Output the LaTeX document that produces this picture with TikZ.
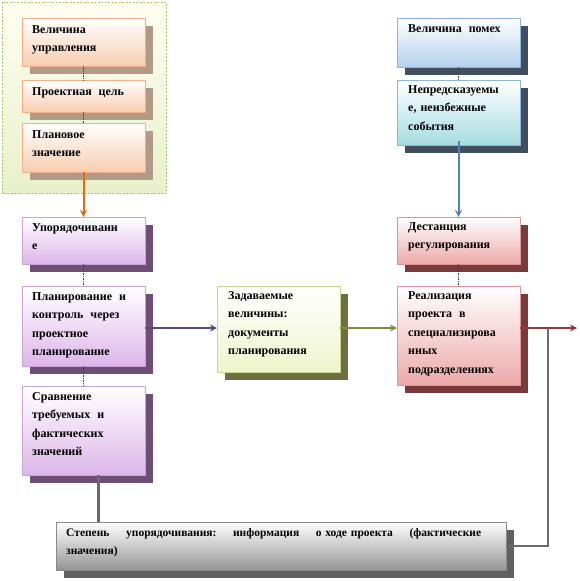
\documentclass[tikz,border=0pt]{standalone}
\usepackage{fontspec}
\setmainfont{Liberation Serif}
\usetikzlibrary{arrows.meta,calc}
\pgfdeclarelayer{back}
\pgfdeclarelayer{bg}
\pgfsetlayers{back,bg,main}
\definecolor{peachB}{HTML}{F8CDB0}
\definecolor{peachD}{HTML}{F2B08A}
\definecolor{purpB}{HTML}{DDB6EA}
\definecolor{purpD}{HTML}{C9A3D9}
\definecolor{grnB}{HTML}{EEF5CC}
\definecolor{grnD}{HTML}{BFDA8A}
\definecolor{bluB}{HTML}{B4D0EC}
\definecolor{bluD}{HTML}{8FB4E0}
\definecolor{cyaB}{HTML}{A6DCE2}
\definecolor{redB}{HTML}{EDA9A9}
\definecolor{redD}{HTML}{E29595}
\definecolor{gryB}{HTML}{959595}
\definecolor{gryD}{HTML}{8A8A8A}
\definecolor{shPeach}{HTML}{B29A88}
\definecolor{shPurp}{HTML}{6E4E74}
\definecolor{shGrn}{HTML}{6E6E40}
\definecolor{shBlu}{HTML}{404E60}
\definecolor{shRed}{HTML}{7A3A3A}
\definecolor{shGry}{HTML}{606060}
\definecolor{frameB}{HTML}{E8F0CC}
\definecolor{frameD}{HTML}{A8C870}
\definecolor{cOrange}{HTML}{E46C0A}
\definecolor{cBlue}{HTML}{4F81BD}
\definecolor{cPurp}{HTML}{5F497A}
\definecolor{cGreen}{HTML}{77933C}
\definecolor{cRed}{HTML}{953735}
\definecolor{cGray}{HTML}{6A6A6A}
\newcommand{\gap}{\hspace{7pt}}
\tikzset{
  bx/.style={rectangle, draw, line width=0.8pt, inner sep=0pt, outer sep=0pt,
    anchor=north west, minimum width=123pt},
  tx/.style={anchor=north west, inner sep=0pt, text width=103pt, align=left,
    font=\fontsize{12}{18.5}\selectfont\bfseries},
  peach/.style={top color=white, bottom color=peachB, draw=peachD},
  purp/.style={top color=white, bottom color=purpB, draw=purpD},
  grn/.style={top color=white, bottom color=grnB, draw=grnD},
  blu/.style={top color=white, bottom color=bluB, draw=bluD},
  cya/.style={top color=white, bottom color=cyaB, draw=bluD},
  redbox/.style={top color=white, bottom color=redB, draw=redD},
  gry/.style={top color=white, bottom color=gryB, draw=gryD},
  thinconn/.style={draw=black!75, line width=0.7pt, densely dotted},
  arr/.style={line width=2pt, -{Stealth[length=7pt,width=7pt]}},
  gline/.style={draw=cGray, line width=2.5pt},
}
\begin{document}
\begin{tikzpicture}[x=1pt,y=-1pt]
\useasboundingbox (0,0) rectangle (579,581);
% left top group
\node[bx,peach,minimum height=48pt] (b1) at (22,18) {};
\node[bx,peach,minimum height=32pt] (b2) at (22,80) {};
\node[bx,peach,minimum height=49pt] (b3) at (22,123) {};
\node[tx] (t1) at ($(b1.north west)+(10,7)$) {Величина\\управления};
\node[tx] (t2) at ($(b2.north west)+(10,7)$) {Проектная\gap цель};
\node[tx] (t3) at ($(b3.north west)+(10,7)$) {Плановое\\значение};
% left column
\node[bx,purp,minimum height=47pt] (u) at (22,217) {};
\node[bx,purp,minimum height=80pt] (pl) at (22,286) {};
\node[bx,purp,minimum height=89pt] (cm) at (22,386) {};
\node[tx] (tu) at ($(u.north west)+(10,6)$) {Упорядочивани\\е};
\node[tx] (tpl) at ($(pl.north west)+(10,6)$) {Планирование\gap и\\контроль\gap через\\проектное\\планирование};
\node[tx] (tcm) at ($(cm.north west)+(10,6)$) {Сравнение\\требуемых\gap и\\фактических\\значений};
% middle
\node[bx,grn,minimum height=86pt] (zd) at (217,286) {};
\node[tx] (tzd) at ($(zd.north west)+(11,5)$) {Задаваемые\\величины:\\документы\\планирования};
% right column
\node[bx,blu,minimum height=49pt] (pm) at (397,18) {};
\node[bx,cya,minimum height=65pt] (np) at (397,80) {};
\node[bx,redbox,minimum height=47pt] (ds) at (397,217) {};
\node[bx,redbox,minimum height=99pt] (re) at (397,286) {};
\node[tx] (tpm) at ($(pm.north west)+(11,6)$) {Величина\gap помех};
\node[tx] (tnp) at ($(np.north west)+(11,5)$) {Непредсказуемы\\е, неизбежные\\события};
\node[tx] (tds) at ($(ds.north west)+(11,5)$) {Дестанция\\регулирования};
\node[tx] (tre) at ($(re.north west)+(11,5)$) {Реализация\\проекта\gap в\\специализирова\\нных\\подразделениях};
% bottom
\node[bx,gry,minimum width=450pt,minimum height=48pt] (st) at (56,522) {};
\node[tx,text width=415pt,font=\fontsize{11.5}{18.5}\selectfont\bfseries] (tst) at ($(st.north west)+(10,6)$) {Степень\hfill упорядочивания:\hfill информация\hfill о ходе проекта\hfill (фактические\\значения)};
% frame and shadows
\begin{pgfonlayer}{back}
\draw[frameD, top color=white!60!yellow!15, bottom color=frameB, line width=1pt, dash pattern=on 2pt off 1.5pt] (2,2) rectangle (166,193);
\end{pgfonlayer}
\begin{pgfonlayer}{bg}
\foreach \n/\c in {b1/shPeach,b2/shPeach,b3/shPeach,u/shPurp,pl/shPurp,cm/shPurp,zd/shGrn,pm/shBlu,np/shBlu,ds/shRed,re/shRed,st/shGry}
  \fill[\c] ([shift={(8,8)}]\n.north west) rectangle ([shift={(8,8)}]\n.south east);
\end{pgfonlayer}
% connectors
\draw[thinconn] (b1) -- (b2);
\draw[thinconn] (b2) -- (b3);
\draw[thinconn] (u) -- (pl);
\draw[thinconn] (pl) -- (cm);
\draw[thinconn] (pm) -- (np);
\draw[thinconn] (ds) -- (re);
\draw[arr,cOrange] (b3.south) -- (u.north);
\draw[arr,cBlue] ([yshift=4pt]np.south) -- (ds.north);
\coordinate (ya) at (0,328);
\draw[arr,cPurp] (pl.east |- ya) -- (zd.west |- ya);
\draw[arr,cGreen] (zd.east |- ya) -- (re.west |- ya);
\coordinate (out) at (577,328);
\draw[arr,cRed] (re.east |- ya) -- (out);
\coordinate (jn) at (548,328);
\draw[gline] (st.east) -| (jn);
\draw[gline] ([xshift=15pt]cm.south) -- ([xshift=15pt]cm.south |- st.north);
\end{tikzpicture}
\end{document}
